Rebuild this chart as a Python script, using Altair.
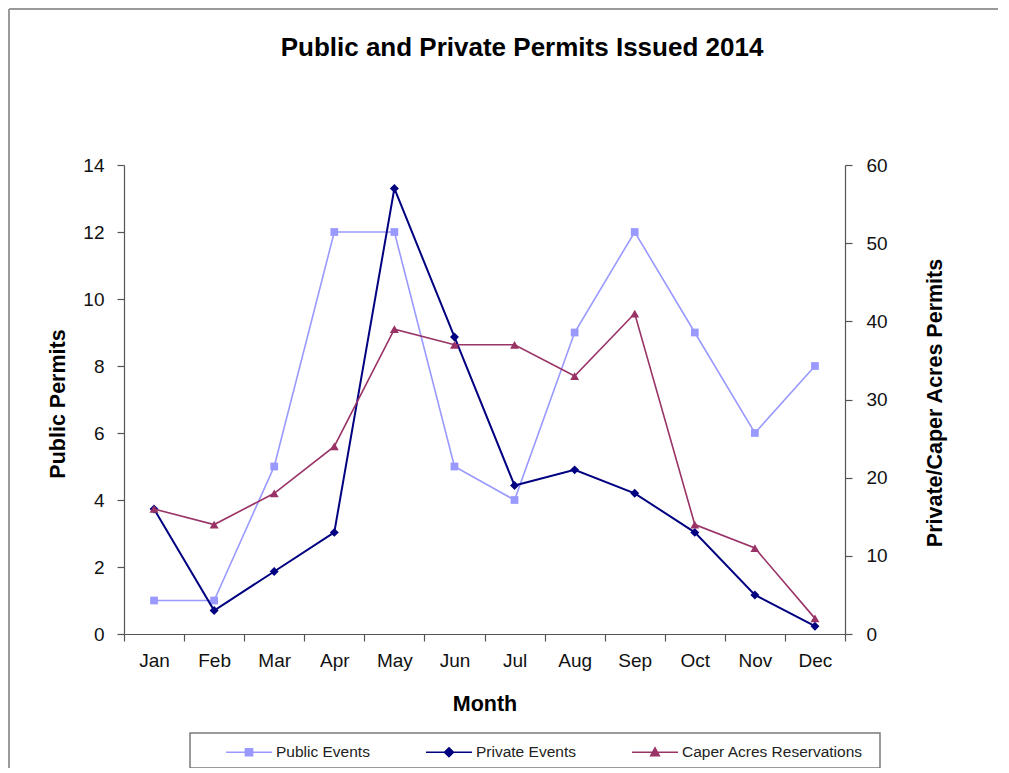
import altair as alt
import pandas as pd

# ---------------- data ----------------
months = ["Jan", "Feb", "Mar", "Apr", "May", "Jun",
          "Jul", "Aug", "Sep", "Oct", "Nov", "Dec"]
public_events = [1, 1, 5, 12, 12, 5, 4, 9, 12, 9, 6, 8]
private_events = [16, 3, 8, 13, 57, 38, 19, 21, 18, 13, 5, 1]
caper_acres = [16, 14, 18, 24, 39, 37, 37, 33, 41, 14, 11, 2]

series_names = ["Public Events", "Private Events", "Caper Acres Reservations"]
series_colors = ["#9999FF", "#000080", "#993366"]
left_ticks = [0, 2, 4, 6, 8, 10, 12, 14]
right_ticks = [0, 10, 20, 30, 40, 50, 60]

title_text = "Public and Private Permits Issued 2014"
x_title = "Month"
left_title = "Public Permits"
right_title = "Private/Caper Acres Permits"

df = pd.DataFrame({"Month": months, "Public": public_events,
                   "Private": private_events, "Caper": caper_acres})
one = pd.DataFrame({"a": [0]})
leg_df = pd.DataFrame({"Series": series_names})

FONT = "Liberation Sans"
W, H = 721, 469
PAD = {"left": 116, "top": 157, "right": 153, "bottom": 134}
AX = "#555555"
TICK_FS = 19
TITLE_FS = 21.5

# ---------------- encodings ----------------
x_enc = alt.X("Month:N", sort=months,
              scale=alt.Scale(type="band", paddingInner=0, paddingOuter=0),
              axis=alt.Axis(title=x_title, tickBand="extent", labelAngle=0,
                            labelFontSize=TICK_FS, labelFont=FONT, labelColor="#111",
                            labelPadding=10, tickSize=7, tickColor=AX,
                            domainColor=AX, domainWidth=1.2, tickWidth=1.2,
                            titleFont=FONT, titleFontSize=TITLE_FS, titleFontWeight="bold",
                            titleY=70, titleBaseline="middle", titleColor="#000",
                            grid=False))

left_axis = alt.Axis(orient="left", values=left_ticks, title=left_title,
                     labelFontSize=TICK_FS, labelFont=FONT, labelColor="#111",
                     labelPadding=13, tickSize=7, tickColor=AX, tickWidth=1.2,
                     domainColor=AX, domainWidth=1.2, grid=False,
                     titleFont=FONT, titleFontSize=TITLE_FS, titleFontWeight="bold",
                     titleX=-66, titleY=H / 2 + 4, titleAngle=270,
                     titleBaseline="middle", titleColor="#000")
right_axis = alt.Axis(orient="right", values=right_ticks, title=right_title,
                      labelFontSize=TICK_FS, labelFont=FONT, labelColor="#111",
                      labelPadding=14, tickSize=7, tickColor=AX, tickWidth=1.2,
                      domainColor=AX, domainWidth=1.2, grid=False,
                      titleFont=FONT, titleFontSize=TITLE_FS, titleFontWeight="bold",
                      titleX=90, titleY=H / 2 + 3, titleAngle=270,
                      titleBaseline="middle", titleColor="#000")

yl = lambda f: alt.Y(f, scale=alt.Scale(domain=[0, 14]), axis=left_axis)
yr = lambda f: alt.Y(f, scale=alt.Scale(domain=[0, 60]), axis=right_axis)

base = alt.Chart(df).encode(x=x_enc)

pub_line = base.mark_line(color=series_colors[0], strokeWidth=1.6).encode(y=yl("Public:Q"))
pub_pts = base.mark_point(shape="square", filled=True, size=60, opacity=1,
                          color=series_colors[0]).encode(y=yl("Public:Q"))
left = alt.layer(pub_line, pub_pts)

priv_line = base.mark_line(color=series_colors[1], strokeWidth=2).encode(y=yr("Private:Q"))
priv_pts = base.mark_point(shape="diamond", filled=True, size=80, opacity=1,
                           color=series_colors[1]).encode(y=yr("Private:Q"))
cap_line = base.mark_line(color=series_colors[2], strokeWidth=1.6).encode(y=yr("Caper:Q"))
cap_pts = base.mark_point(shape="triangle-up", filled=True, size=80, opacity=1,
                          color=series_colors[2]).encode(y=yr("Caper:Q"))
right = alt.layer(priv_line, priv_pts, cap_line, cap_pts)

# ---------------- legend ----------------
legend_paths = [
    "M-1.92,0H1.92M-0.3,-0.3H0.3V0.3H-0.3Z",
    "M-1.92,0H1.92M0,-0.38L0.38,0L0,0.38L-0.38,0Z",
    "M-1.92,0H1.92M0,-0.36L0.36,0.3H-0.36Z",
]
leg_def = alt.Legend(title=None, orient="none", legendX=112, legendY=574,
                     direction="horizontal", columns=3, columnPadding=52,
                     labelOffset=14, symbolSize=576, symbolStrokeWidth=1.5,
                     symbolOpacity=1, labelFont=FONT, labelFontSize=15.5,
                     labelColor="#222", padding=0, labelLimit=400)
color_scale = alt.Scale(domain=series_names, range=series_colors)
legend_layer = alt.Chart(leg_df).mark_point(size=576, opacity=1).encode(
    x=alt.value(-5000), y=alt.value(-5000),
    fill=alt.Fill("Series:N", scale=color_scale, legend=leg_def),
    stroke=alt.Stroke("Series:N", scale=color_scale, legend=leg_def),
    shape=alt.Shape("Series:N", scale=alt.Scale(domain=series_names, range=legend_paths),
                    legend=leg_def),
)
legend_box = alt.Chart(one).mark_rect(fillOpacity=0, stroke="#7a7a7a", strokeWidth=1.5).encode(
    x=alt.value(66), x2=alt.value(756), y=alt.value(568), y2=alt.value(603))

# ---------------- frame and title ----------------
frame_top = alt.Chart(one).mark_rule(color="#9a9a9a", strokeWidth=2).encode(
    x=alt.value(-115), x2=alt.value(880), y=alt.value(-156))
frame_left = alt.Chart(one).mark_rule(color="#9a9a9a", strokeWidth=2).encode(
    x=alt.value(-115), y=alt.value(-156), y2=alt.value(620))
title = alt.Chart(one).mark_text(text=title_text, font=FONT, fontSize=26,
                                 fontWeight="bold", color="#000", align="center",
                                 baseline="middle").encode(
    x=alt.value(398), y=alt.value(-117))

chart = alt.layer(frame_top, frame_left, title, left, right, legend_box, legend_layer).resolve_scale(
    y="independent"
).properties(
    width=W, height=H, padding=PAD,
    autosize=alt.AutoSizeParams(type="none"),
).configure_view(stroke=None)

chart.save("out.html", embed_options={"renderer": "svg", "actions": False})
